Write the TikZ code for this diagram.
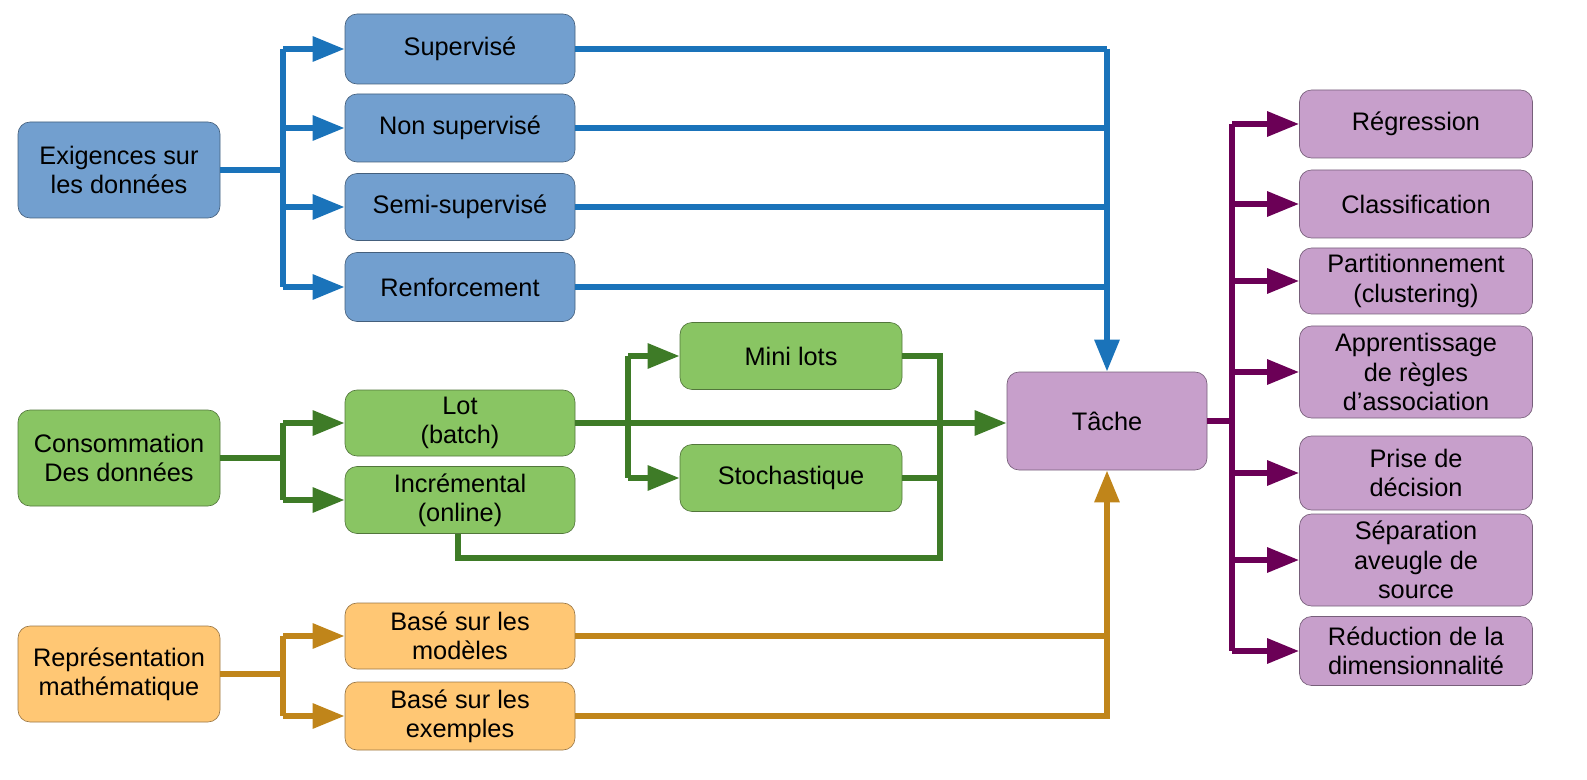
\documentclass[tikz,border=0pt]{standalone}
\usepackage{fontspec}
\setmainfont{Liberation Sans}
\usetikzlibrary{arrows.meta}
\definecolor{bF}{RGB}{114,159,207}\definecolor{bL}{RGB}{26,115,186}
\definecolor{gF}{RGB}{137,197,99}\definecolor{gL}{RGB}{62,123,39}
\definecolor{oF}{RGB}{255,199,116}\definecolor{oL}{RGB}{192,133,26}
\definecolor{pF}{RGB}{199,159,203}\definecolor{pL}{RGB}{107,0,86}
\begin{document}
\begin{tikzpicture}[x=0.75pt,y=-0.75pt,
 box/.style={draw=#1!60!black,line width=0.5pt,rounded corners=9pt,align=center,inner sep=0pt,font=\fontsize{19}{22}\selectfont},
 w/.style={minimum width=#1*0.75pt},h/.style={minimum height=#1*0.75pt},
 ln/.style={draw=#1,line width=4.5pt},
 ar/.style={ln=#1,-{Triangle[length=24pt,width=18pt]}}]
\useasboundingbox (0,0) rectangle (1587,780);
% blue
\node[box=bF,fill=bF,w=202,h=96] (ex) at (119,170) {Exigences sur\\les données};
\node[box=bF,fill=bF,w=230,h=70] (s1) at (460,49) {Supervisé};
\node[box=bF,fill=bF,w=230,h=68] (s2) at (460,128) {Non supervisé};
\node[box=bF,fill=bF,w=230,h=67] (s3) at (460,207) {Semi-supervisé};
\node[box=bF,fill=bF,w=230,h=69] (s4) at (460,287) {Renforcement};
\node[box=pF,fill=pF,w=200,h=98] (t) at (1107,421) {Tâche};
\coordinate (bt) at (283,170);
\draw[ln=bL] (ex.east) -- (bt);
\draw[ln=bL] (283,49) -- (283,287);
\foreach \n in {s1,s2,s3,s4}{\draw[ar=bL] (bt|-\n.west) -- (\n.west);
 \draw[ln=bL] (\n.east) -- (1107,0|-\n.east);}
\draw[ar=bL] (1107,49) -- (t.north);
% green
\node[box=gF,fill=gF,w=202,h=96] (co) at (119,458) {Consommation\\Des données};
\node[box=gF,fill=gF,w=230,h=66] (lot) at (460,423) {Lot\\(batch)};
\node[box=gF,fill=gF,w=230,h=67] (inc) at (460,500) {Incrémental\\(online)};
\node[box=gF,fill=gF,w=222,h=67] (mini) at (791,356) {Mini lots};
\node[box=gF,fill=gF,w=222,h=67] (sto) at (791,478) {Stochastique};
\draw[ln=gL] (co.east) -- (283,458);
\draw[ln=gL] (283,423) -- (283,500);
\draw[ar=gL] (283,423) -- (lot.west);
\draw[ar=gL] (283,500) -- (inc.west);
\draw[ar=gL] (lot.east) -- (t.west|-lot.east);
\draw[ln=gL] (628,356) -- (628,478);
\draw[ar=gL] (628,356) -- (mini.west);
\draw[ar=gL] (628,478) -- (sto.west);
\draw[ln=gL] (mini.east) -- (940,356) -- (940,558) -- (458,558) -- (458,0|-inc.south);
\draw[ln=gL] (sto.east) -- (940,478);
% orange
\node[box=oF,fill=oF,w=202,h=96] (re) at (119,674) {Représentation\\mathématique};
\node[box=oF,fill=oF,w=230,h=66] (m1) at (460,636) {Basé sur les\\modèles};
\node[box=oF,fill=oF,w=230,h=68] (m2) at (460,716) {Basé sur les\\exemples};
\draw[ln=oL] (re.east) -- (283,674);
\draw[ln=oL] (283,636) -- (283,716);
\draw[ar=oL] (283,636) -- (m1.west);
\draw[ar=oL] (283,716) -- (m2.west);
\draw[ln=oL] (m1.east) -- (1107,636);
\draw[ln=oL] (m2.east) -- (1107,716) -- (1107,636);
\draw[ar=oL] (1107,640) -- (t.south);
% purple
\node[box=pF,fill=pF,w=233,h=68] (p1) at (1416,124) {Régression};
\node[box=pF,fill=pF,w=233,h=68] (p2) at (1416,204) {Classification};
\node[box=pF,fill=pF,w=233,h=66] (p3) at (1416,281) {Partitionnement\\(clustering)};
\node[box=pF,fill=pF,w=233,h=92] (p4) at (1416,372) {Apprentissage\\de règles\\d’association};
\node[box=pF,fill=pF,w=233,h=74] (p5) at (1416,473) {Prise de\\décision};
\node[box=pF,fill=pF,w=233,h=92] (p6) at (1416,560) {Séparation\\aveugle de\\source};
\node[box=pF,fill=pF,w=233,h=69] (p7) at (1416,651) {Réduction de la\\dimensionnalité};
\draw[ln=pL] (t.east) -- (1232,421);
\draw[ln=pL] (1232,124) -- (1232,651);
\foreach \n in {p1,p2,p3,p4,p5,p6,p7}{\draw[ar=pL] (1232,0|-\n.west) -- (\n.west);}
\end{tikzpicture}
\end{document}
